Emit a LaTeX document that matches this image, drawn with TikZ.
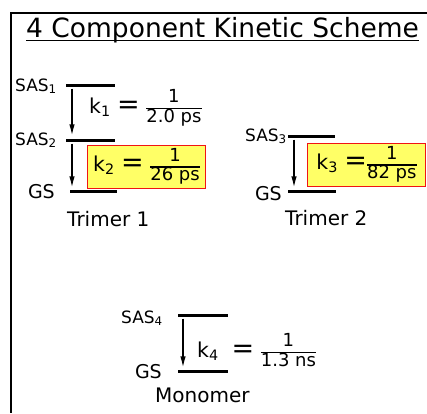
\documentclass[tikz,border=0pt]{standalone}
\usepackage{fontspec}
\setmainfont{DejaVu Sans}
\usepackage{tikz}
\usetikzlibrary{arrows.meta, positioning}
\definecolor{HY}{RGB}{255,255,102}
\definecolor{HR}{RGB}{240,20,20}
\newcommand{\kfrac}[2]{{\fontsize{18pt}{18pt}\selectfont
  \setlength{\arrayrulewidth}{1.4pt}\renewcommand{\arraystretch}{0.95}%
  \begin{tabular}[c]{@{}c@{}}#1\\\hline #2\end{tabular}}}
\newcommand{\keq}{{\fontsize{27pt}{27pt}\selectfont=}}

\begin{document}
\begin{tikzpicture}[x=1pt, y=-1pt,
  lvl/.style={fill=black, inner sep=0pt, minimum height=3pt, minimum width=#1},
  lbl/.style={font=\fontsize{17pt}{18pt}\selectfont, inner sep=0pt, anchor=base east},
  gs/.style={font=\fontsize{19pt}{21pt}\selectfont, inner sep=0pt, anchor=base east},
  grp/.style={font=\fontsize{20pt}{22pt}\selectfont, inner sep=0pt, anchor=base west},
  rate/.style={font=\fontsize{20.5pt}{22pt}\selectfont, inner sep=0pt},
  hibox/.style={rate, draw=HR, line width=1.6pt, fill=HY,
                minimum width=118pt, minimum height=43pt},
  arr/.style={-{Latex[length=12pt, width=5.5pt]}, line width=1.8pt},
  framel/.style={line width=2pt},
  uline/.style={line width=1.6pt}
]
\useasboundingbox (0,0) rectangle (427,413);
\draw[framel] (427,13) -| (11,413);

% Title
\node[inner sep=0pt, anchor=base west, font=\fontsize{26.5pt}{28pt}\selectfont]
  (title) at (26,37) {4 Component Kinetic Scheme};
\draw[uline] ([yshift=-3.5pt]title.base west) -- ([yshift=-3.5pt]title.base east);

% Trimer 1
\node[lvl=49pt] (s1) at (90,85)  {};
\node[lvl=49pt] (s2) at (90,140) {};
\node[lvl=47pt] (g1) at (93.5,191) {};
\node[lbl] (s1t) at (57,91)  {SAS\textsubscript{1}};
\node[lbl] (s2t) at (57,145) {SAS\textsubscript{2}};
\node[gs]  (g1t) at (55,198) {GS};
\draw[arr] ([xshift=-18pt,yshift=-2pt]s1.south) -- ([xshift=-18pt,yshift=2pt]s2.north);
\draw[arr] ([xshift=-18pt,yshift=-2pt]s2.south) -- ([xshift=-21.5pt,yshift=1pt]g1.north);
\node[rate, anchor=base west] (k1) at (89,113) {k\textsubscript{1} \keq{} \kfrac{1}{2.0 ps}};
\node[hibox] (k2) at (146.5,167) {k\textsubscript{2} \keq{} \kfrac{1}{26 ps}};
\node[grp] (t1) at (67,226) {Trimer 1};

% Trimer 2
\node[lvl=47pt] (s3) at (311.5,136) {};
\node[lvl=48pt] (g2) at (312,191)   {};
\node[lbl] (s3t) at (287,141) {SAS\textsubscript{3}};
\node[gs]  (g2t) at (282,200) {GS};
\draw[arr] ([xshift=-17.5pt,yshift=-2pt]s3.south) -- ([xshift=-18pt,yshift=1pt]g2.north);
\node[hibox] (k3) at (366.5,165) {k\textsubscript{3} \keq\kfrac{1}{82 ps}};
\node[grp] (t2) at (285,225) {Trimer 2};

% Monomer
\node[lvl=50pt] (s4) at (203,315) {};
\node[lvl=50pt] (g3) at (203,371) {};
\node[lbl] (s4t) at (163,323) {SAS\textsubscript{4}};
\node[gs]  (g3t) at (162,378) {GS};
\draw[arr] ([xshift=-20pt,yshift=-2pt]s4.south) -- ([xshift=-20pt,yshift=1pt]g3.north);
\node[rate, anchor=base west] (k4) at (197,357) {k\textsubscript{4}\ \ \keq{} \kfrac{1}{1.3 ns}};
\node[grp] (m1) at (155,402) {Monomer};
\end{tikzpicture}
\end{document}
